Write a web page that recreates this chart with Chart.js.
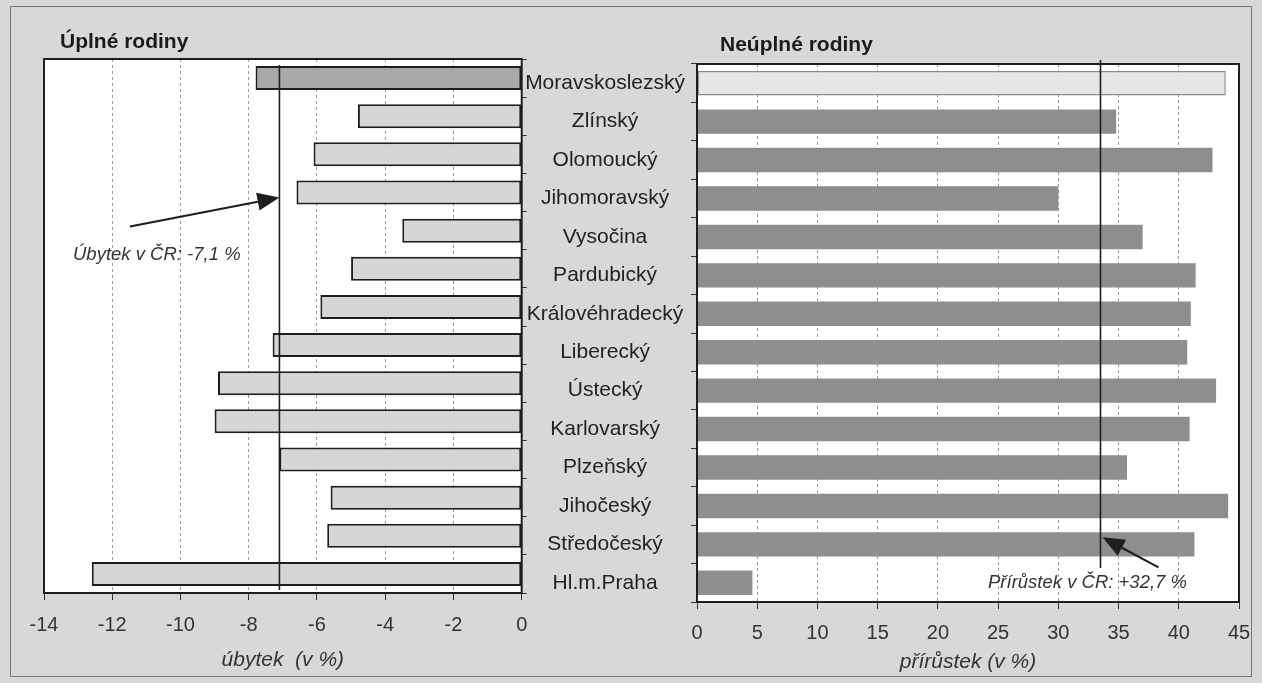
<!DOCTYPE html>
<html><head><meta charset="utf-8">
<script src="https://cdn.jsdelivr.net/npm/chart.js@4.4.1/dist/chart.umd.min.js"></script>
<style>
html,body{margin:0;padding:0;background:#d8d8d8;width:1262px;height:683px;overflow:hidden;}
#frame{position:absolute;left:10px;top:6px;width:1242px;height:671px;border:1.5px solid #777;box-sizing:border-box;}
#cl{position:absolute;left:0;top:0;}
#cr{position:absolute;left:500px;top:0;}
</style></head><body>
<div id="frame"></div>
<canvas id="cl" width="530" height="683"></canvas>
<canvas id="cr" width="762" height="683"></canvas>
<script>
// ---- data ----
const regions = ['Moravskoslezský','Zlínský','Olomoucký','Jihomoravský','Vysočina','Pardubický','Královéhradecký','Liberecký','Ústecký','Karlovarský','Plzeňský','Jihočeský','Středočeský','Hl.m.Praha'];
const completeFamiliesChange = [-7.8,-4.8,-6.1,-6.6,-3.5,-5.0,-5.9,-7.3,-8.9,-9.0,-7.1,-5.6,-5.7,-12.6];
const singleParentChange = [43.9,34.8,42.8,30.0,37.0,41.4,41.0,40.7,43.1,40.9,35.7,44.1,41.3,4.6];
const leftTicks = [-14,-12,-10,-8,-6,-4,-2,0];
const rightTicks = [0,5,10,15,20,25,30,35,40,45];
const czLeftValue = -7.1;   // Úbytek v ČR
const czRightLine = 33.5;   // reference line position as drawn
const leftTitle = 'Úplné rodiny';
const rightTitle = 'Neúplné rodiny';
const leftAxisTitle = 'úbytek  (v %)';
const rightAxisTitle = 'přírůstek (v %)';
const leftNote = 'Úbytek v ČR: -7,1 %';
const rightNote = 'Přírůstek v ČR: +32,7 %';

// ---- helpers ----
const FONT = '"Liberation Sans", Arial, Helvetica, sans-serif';
const INK = '#1e1e1e';
function arrow(ctx, x1, y1, x2, y2) {
  const a = Math.atan2(y2 - y1, x2 - x1), L = 22, W = 9;
  const bx = x2 - L * Math.cos(a), by = y2 - L * Math.sin(a);
  ctx.save();
  ctx.strokeStyle = INK; ctx.fillStyle = INK; ctx.lineWidth = 2;
  ctx.beginPath(); ctx.moveTo(x1, y1); ctx.lineTo(bx, by); ctx.stroke();
  ctx.beginPath(); ctx.moveTo(x2, y2);
  ctx.lineTo(bx - W * Math.sin(a), by + W * Math.cos(a));
  ctx.lineTo(bx + W * Math.sin(a), by - W * Math.cos(a));
  ctx.closePath(); ctx.fill();
  ctx.restore();
}
const areaBg = {
  id: 'areaBg',
  beforeDraw(chart) {
    const {ctx, chartArea: a} = chart;
    ctx.save(); ctx.fillStyle = '#ffffff';
    ctx.fillRect(a.left, a.top, a.right - a.left, a.bottom - a.top);
    ctx.restore();
  }
};
function frame(ctx, a) {
  ctx.save(); ctx.strokeStyle = INK; ctx.lineWidth = 2;
  ctx.strokeRect(a.left, a.top, a.right - a.left, a.bottom - a.top);
  ctx.restore();
}
const leftDeco = {
  id: 'leftDeco',
  afterDraw(chart) {
    const {ctx, chartArea: a, scales: {x, y}} = chart;
    frame(ctx, a);
    const lx = x.getPixelForValue(czLeftValue);
    ctx.save(); ctx.strokeStyle = INK; ctx.lineWidth = 1.6;
    ctx.beginPath(); ctx.moveTo(lx, a.top + 6); ctx.lineTo(lx, a.bottom - 3); ctx.stroke();
    ctx.restore();
    const tipY = y.getPixelForValue(3) + 5;
    arrow(ctx, a.left + 86, tipY + 29, lx, tipY);
    ctx.save();
    ctx.fillStyle = '#333'; ctx.font = 'italic 18.5px ' + FONT;
    ctx.textAlign = 'left'; ctx.textBaseline = 'middle';
    ctx.fillText(leftNote, a.left + 29, a.top + 196);
    ctx.fillStyle = '#1a1a1a'; ctx.font = 'bold 21px ' + FONT; ctx.textBaseline = 'alphabetic';
    ctx.fillText(leftTitle, a.left + 16, a.top - 11);
    ctx.restore();
  }
};
const rightDeco = {
  id: 'rightDeco',
  afterDraw(chart) {
    const {ctx, chartArea: a, scales: {x, y}} = chart;
    frame(ctx, a);
    const lx = x.getPixelForValue(czRightLine);
    ctx.save(); ctx.strokeStyle = INK; ctx.lineWidth = 1.6;
    ctx.beginPath(); ctx.moveTo(lx, a.top - 4); ctx.lineTo(lx, a.bottom - 34); ctx.stroke();
    ctx.restore();
    const tipY = y.getPixelForValue(12) - 7;
    arrow(ctx, lx + 58, tipY + 30, lx + 2, tipY);
    ctx.save();
    ctx.fillStyle = '#333'; ctx.font = 'italic 18.5px ' + FONT;
    ctx.textAlign = 'left'; ctx.textBaseline = 'middle';
    ctx.fillText(rightNote, a.left + 291, a.bottom - 19);
    ctx.fillStyle = '#1a1a1a'; ctx.font = 'bold 21px ' + FONT; ctx.textBaseline = 'alphabetic';
    ctx.fillText(rightTitle, a.left + 23, a.top - 13);
    ctx.restore();
  }
};

Chart.defaults.font.family = FONT;
Chart.defaults.color = '#333';

// ---- left chart: complete families ----
new Chart(document.getElementById('cl'), {
  type: 'bar',
  data: {
    labels: regions,
    datasets: [{
      data: completeFamiliesChange,
      backgroundColor: c => c.dataIndex === 0 ? '#a9a9a9' : '#d6d6d6',
      borderColor: INK, borderWidth: 2, borderSkipped: false,
      barPercentage: 0.63, categoryPercentage: 1
    }]
  },
  options: {
    indexAxis: 'y', responsive: false, animation: false,
    layout: {padding: {left: 44, top: 59, right: 0, bottom: 0}},
    plugins: {legend: {display: false}, tooltip: {enabled: false}, title: {display: false}},
    scales: {
      x: {
        type: 'linear', position: 'bottom',
        min: leftTicks[0], max: leftTicks[leftTicks.length - 1],
        afterFit(s) { s.height = 90; s.paddingLeft = 0; s.paddingRight = 0; },
        ticks: {stepSize: leftTicks[1] - leftTicks[0], padding: 13, color: '#333', font: {size: 20}, maxRotation: 0, autoSkip: false,
          callback: v => leftTicks.includes(v) ? String(v) : ''},
        grid: {color: '#9a9a9a', lineWidth: 1, drawTicks: true, tickLength: 7, tickColor: '#333', tickWidth: 1, tickBorderDash: []},
        border: {display: false, dash: [3, 3]},
        title: {display: true, text: leftAxisTitle, color: '#333', font: {size: 21, style: 'italic'}, padding: {top: 0, bottom: 10}}
      },
      y: {
        type: 'category', position: 'right',
        afterFit(s) { s.width = 8.3; s.paddingTop = 0; s.paddingBottom = 0; },
        ticks: {display: false, autoSkip: false},
        grid: {drawOnChartArea: false, drawTicks: true, tickLength: 5, tickColor: '#333'},
        border: {display: false}
      }
    }
  },
  plugins: [areaBg, leftDeco]
});

// ---- right chart: single-parent families ----
new Chart(document.getElementById('cr'), {
  type: 'bar',
  data: {
    labels: regions,
    datasets: [{
      data: singleParentChange,
      backgroundColor: c => c.dataIndex === 0 ? '#e6e6e6' : '#8e8e8e',
      borderColor: c => c.dataIndex === 0 ? '#8a8a8a' : 'rgba(0,0,0,0)',
      borderWidth: c => c.dataIndex === 0 ? 1.5 : 0,
      borderSkipped: false,
      barPercentage: 0.635, categoryPercentage: 1
    }]
  },
  options: {
    indexAxis: 'y', responsive: false, animation: false,
    layout: {padding: {left: 0, top: 64, right: 23, bottom: 0}},
    plugins: {legend: {display: false}, tooltip: {enabled: false}, title: {display: false}},
    scales: {
      x: {
        type: 'linear', position: 'bottom',
        min: rightTicks[0], max: rightTicks[rightTicks.length - 1],
        afterFit(s) { s.height = 81; s.paddingLeft = 0; s.paddingRight = 0; },
        ticks: {stepSize: rightTicks[1] - rightTicks[0], padding: 12, color: '#333', font: {size: 20}, maxRotation: 0, autoSkip: false,
          callback: v => rightTicks.includes(v) ? String(v) : ''},
        grid: {color: '#9a9a9a', lineWidth: 1, drawTicks: true, tickLength: 7, tickColor: '#333', tickWidth: 1, tickBorderDash: []},
        border: {display: false, dash: [3, 3]},
        title: {display: true, text: rightAxisTitle, color: '#333', font: {size: 21, style: 'italic'}, padding: {top: 0, bottom: 8}}
      },
      y: {
        type: 'category', position: 'left',
        afterFit(s) { s.width = 197; s.paddingTop = 0; s.paddingBottom = 0; },
        ticks: {display: true, autoSkip: false, crossAlign: 'center', padding: 6, color: '#222', font: {size: 21}},
        grid: {drawOnChartArea: false, drawTicks: true, tickLength: 6, tickColor: '#333'},
        border: {display: false}
      }
    }
  },
  plugins: [areaBg, rightDeco]
});
</script>
</body></html>
